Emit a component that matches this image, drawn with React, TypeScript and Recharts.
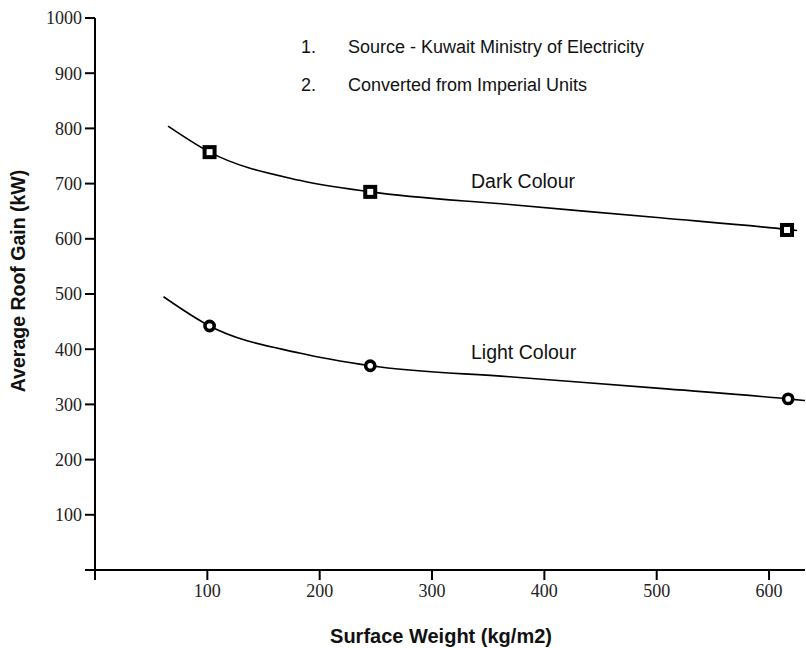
import React from 'react';
import { ComposedChart, Line, Scatter, XAxis, YAxis } from 'recharts';

// Curve traces (x: kg/m2, y: kW)
const darkCurveX = [65, 102, 182, 245, 369, 503, 616, 625];
const darkCurveY = [804, 757, 706, 685, 662, 638, 617, 615];
const lightCurveX = [61, 102, 182, 245, 369, 503, 617, 632];
const lightCurveY = [495, 442, 393, 370, 350, 329, 310, 307];

// Measured points
const darkPointX = [102, 245, 616];
const darkPointY = [757, 685, 616];
const lightPointX = [102, 245, 617];
const lightPointY = [442, 370, 310];

const xTicks = [0, 100, 200, 300, 400, 500, 600];
const yTicks = [0, 100, 200, 300, 400, 500, 600, 700, 800, 900, 1000];

const notes = ['Source - Kuwait Ministry of Electricity', 'Converted from Imperial Units'];

const zip = (xs: number[], ys: number[]) => xs.map((x, i) => ({ x, y: ys[i] }));

const darkCurve = zip(darkCurveX, darkCurveY);
const lightCurve = zip(lightCurveX, lightCurveY);
const darkPoints = zip(darkPointX, darkPointY);
const lightPoints = zip(lightPointX, lightPointY);

const SquareMark = (props: any) => {
  const { cx, cy } = props;
  return <rect x={cx - 5} y={cy - 5} width={10} height={10} fill="#fff" stroke="#000" strokeWidth={4} />;
};
const CircleMark = (props: any) => {
  const { cx, cy } = props;
  return <circle cx={cx} cy={cy} r={4.6} fill="#fff" stroke="#000" strokeWidth={3.6} />;
};

const tickFont = { fontFamily: '"Liberation Serif", "DejaVu Serif", serif', fontSize: 18, fill: '#222' };
const sans = '"Liberation Sans", Arial, sans-serif';

export default function App() {
  return (
    <div style={{ position: 'absolute', left: 0, top: 0, width: 806, height: 648, background: '#fff' }}>
      <ComposedChart width={806} height={648} margin={{ top: 18, right: 1, left: 0, bottom: 0 }}>
        <XAxis
          type="number"
          dataKey="x"
          domain={[0, 632]}
          ticks={xTicks}
          tickFormatter={(v: number) => (v === 0 ? '' : String(v))}
          height={78}
          stroke="#000"
          strokeWidth={2}
          tickSize={10}
          tickMargin={4}
          tick={tickFont}
          allowDataOverflow
        />
        <YAxis
          type="number"
          dataKey="y"
          domain={[0, 1000]}
          ticks={yTicks}
          tickFormatter={(v: number) => (v === 0 ? '' : String(v))}
          width={95}
          stroke="#000"
          strokeWidth={2}
          tickSize={10}
          tickMargin={3}
          tick={tickFont}
          allowDataOverflow
        />
        <Line data={darkCurve} dataKey="y" type="monotone" stroke="#000" strokeWidth={1.6} dot={false} isAnimationActive={false} />
        <Line data={lightCurve} dataKey="y" type="monotone" stroke="#000" strokeWidth={1.6} dot={false} isAnimationActive={false} />
        <Scatter data={darkPoints} dataKey="y" shape={SquareMark} isAnimationActive={false} />
        <Scatter data={lightPoints} dataKey="y" shape={CircleMark} isAnimationActive={false} />
      </ComposedChart>

      {notes.map((n, i) => (
        <React.Fragment key={n}>
          <div style={{ position: 'absolute', left: 301, top: 36 + i * 38, fontFamily: sans, fontSize: 18, lineHeight: '22px', color: '#111' }}>{i + 1}.</div>
          <div style={{ position: 'absolute', left: 348, top: 36 + i * 38, fontFamily: sans, fontSize: 18, lineHeight: '22px', color: '#111', whiteSpace: 'nowrap' }}>{n}</div>
        </React.Fragment>
      ))}
      <div style={{ position: 'absolute', left: 471, top: 170, fontFamily: sans, fontSize: 19.5, lineHeight: '22px', color: '#111', whiteSpace: 'nowrap' }}>Dark Colour</div>
      <div style={{ position: 'absolute', left: 471, top: 341, fontFamily: sans, fontSize: 19.5, lineHeight: '22px', color: '#111', whiteSpace: 'nowrap' }}>Light Colour</div>

      <div style={{ position: 'absolute', left: 0, width: 882, top: 625, textAlign: 'center', fontFamily: sans, fontWeight: 'bold', fontSize: 20, lineHeight: '22px', color: '#111', whiteSpace: 'nowrap' }}>Surface Weight (kg/m2)</div>
      <div style={{ position: 'absolute', left: 18, top: 281, width: 0, height: 0 }}>
        <div style={{ position: 'absolute', left: 0, top: 0, transform: 'translate(-50%, -50%) rotate(-90deg)', fontFamily: sans, fontWeight: 'bold', fontSize: 19.5, lineHeight: '22px', color: '#111', whiteSpace: 'nowrap' }}>Average Roof Gain (kW)</div>
      </div>
    </div>
  );
}
